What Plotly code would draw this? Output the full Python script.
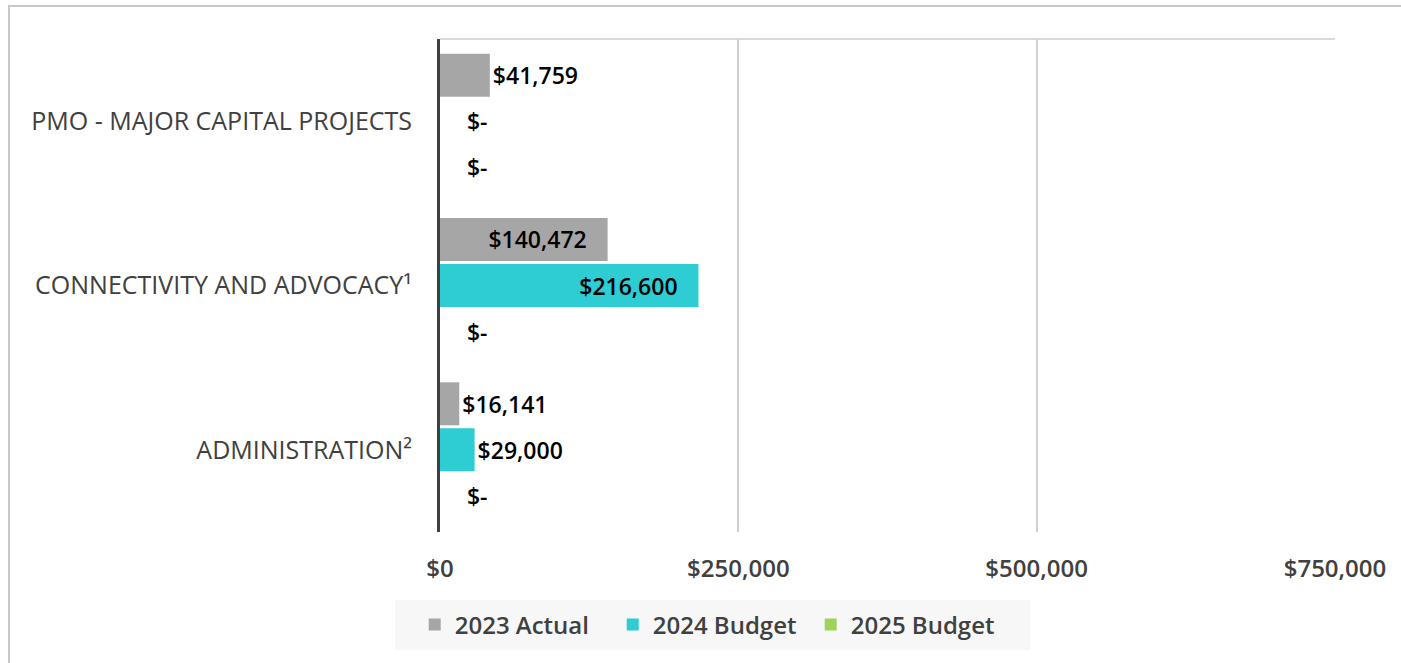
import plotly.graph_objects as go

categories = ["PMO - MAJOR CAPITAL PROJECTS", "CONNECTIVITY AND ADVOCACY¹", "ADMINISTRATION²"]
series_names = ["2023 Actual", "2024 Budget", "2025 Budget"]
actual_2023 = [41759, 140472, 16141]
budget_2024 = [0, 216600, 29000]
budget_2025 = [0, 0, 0]
tick_values = [0, 250000, 500000, 750000]
tick_labels = ["$0", "$250,000", "$500,000", "$750,000"]
colors = ["#A6A6A6", "#2ECCD3", "#9FD25B"]

W, H = 1401, 663
ML, MR, MT, MB = 440, 66, 39, 131
PW, PH = W - ML - MR, H - MT - MB

NB = "\u00a0"


def label(v):
    return f"{NB*4}$-" if v == 0 else f"${v:,.0f}"


fig = go.Figure()
for name, vals, col in zip(series_names, [actual_2023, budget_2024, budget_2025], colors):
    texts = []
    positions = []
    for v in vals:
        if v >= 100000:
            texts.append(label(v) + NB * 3)
            positions.append("inside")
        else:
            texts.append(label(v))
            positions.append("outside")
    tf = dict(family="Open Sans", size=23, color="#000000", weight=600)
    fig.add_trace(go.Bar(
        name=name, y=categories, x=vals, orientation="h",
        marker=dict(color=col, line=dict(width=0)),
        text=texts, textposition=positions, insidetextanchor="end",
        textfont=tf, outsidetextfont=tf, insidetextfont=tf,
        cliponaxis=False, constraintext="none",
    ))


def px_x(p):
    return (p - ML) / PW


def px_y(p):
    return (H - MB - p) / PH


shapes = [
    # plot area top border
    dict(type="line", xref="paper", yref="paper", x0=0, x1=1, y0=1, y1=1,
         line=dict(color="#D9D9D9", width=2), layer="below"),
    # outer frame
    dict(type="rect", xref="paper", yref="paper",
         x0=px_x(9), x1=px_x(W + 20), y0=px_y(H + 20), y1=px_y(6),
         line=dict(color="#C8C8C8", width=2), layer="below"),
    # legend background
    dict(type="rect", xref="paper", yref="paper",
         x0=px_x(395), x1=px_x(1030), y0=px_y(650), y1=px_y(600),
         line=dict(width=0), fillcolor="#F7F7F7", layer="below"),
]

fig.update_layout(
    width=W, height=H,
    margin=dict(l=ML, r=MR, t=MT, b=MB, pad=0),
    paper_bgcolor="#FFFFFF", plot_bgcolor="rgba(0,0,0,0)",
    barmode="group", bargap=0.16, bargroupgap=0.065,
    font=dict(family="Open Sans", color="#404040"),
    shapes=shapes,
    xaxis=dict(
        range=[0, 750000], tickvals=tick_values, ticktext=tick_labels,
        showgrid=True, gridcolor="#D0D0D0", gridwidth=2,
        zeroline=False, showline=False,
        ticks="outside", ticklen=15, tickcolor="rgba(0,0,0,0)",
        tickfont=dict(family="Open Sans", size=24, color="#404040", weight=600),
        fixedrange=True,
    ),
    yaxis=dict(
        autorange="reversed", showgrid=False, zeroline=False,
        showline=True, linecolor="#404040", linewidth=3,
        ticks="outside", ticklen=20, tickcolor="rgba(0,0,0,0)",
        tickfont=dict(family="Open Sans", size=25, color="#404040"),
        fixedrange=True,
    ),
    legend=dict(
        orientation="h", xref="container", yref="container",
        x=0.508, xanchor="center", y=(H - 625) / H, yanchor="middle",
        bgcolor="rgba(0,0,0,0)", borderwidth=0,
        font=dict(family="Open Sans", size=24, color="#404040", weight=600),
        traceorder="normal", itemwidth=30, entrywidth=153, entrywidthmode="pixels",
    ),
    showlegend=True,
)

fig.write_html("out.html")
